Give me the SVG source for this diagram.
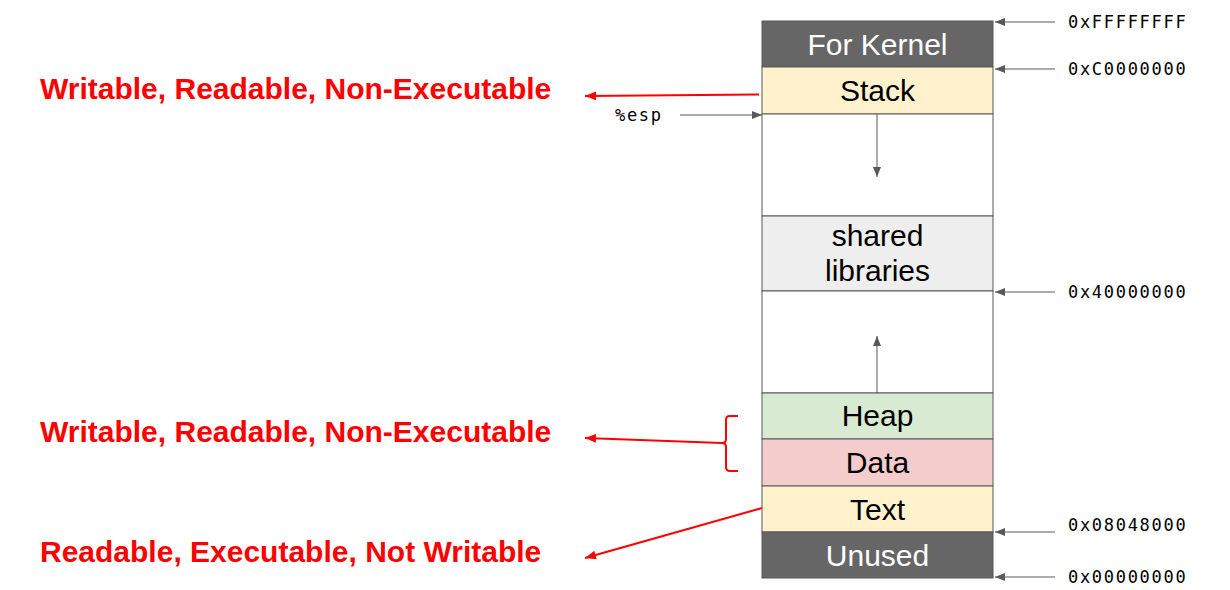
<svg xmlns="http://www.w3.org/2000/svg" width="1230" height="590" viewBox="0 0 1230 590">
<style>
.blk{stroke:#595959;stroke-width:1}
.lbl{font-family:"Liberation Sans",Arial,sans-serif;font-size:30px;text-anchor:middle;fill:#000}
.wl{fill:#fff}
.addr{font-family:"DejaVu Sans Mono","Liberation Mono",monospace;font-size:17px;letter-spacing:1.7px;fill:#000}
.perm{font-family:"Liberation Sans",Arial,sans-serif;font-size:30px;font-weight:bold;fill:#ff0000}
.gl{stroke:#595959;stroke-width:1;fill:none}
.rl{stroke:#ff0000;stroke-width:2;fill:none}
</style>
<defs>
<marker id="ga" viewBox="0 0 10 10" refX="10" refY="5" markerWidth="10" markerHeight="10" markerUnits="userSpaceOnUse" orient="auto"><path d="M0,1 L10,5 L0,9 Z" fill="#595959"/></marker>
<marker id="ra" viewBox="0 0 10 10" refX="10" refY="5" markerWidth="11" markerHeight="11" markerUnits="userSpaceOnUse" orient="auto"><path d="M0,1 L10,5 L0,9 Z" fill="#ff0000"/></marker>
</defs>
<rect width="1230" height="590" fill="#fff"/>
<g id="kernel"><rect class="blk" x="762" y="21" width="231" height="46" fill="#666666"/><text class="lbl wl" x="877.5" y="55">For Kernel</text></g>
<g id="stack"><rect class="blk" x="762" y="67" width="231" height="47" fill="#fff2cc"/><text class="lbl" x="877.5" y="101">Stack</text></g>
<g id="gap1"><rect class="blk" x="762" y="114" width="231" height="102" fill="#fff"/></g>
<g id="shared"><rect class="blk" x="762" y="216" width="231" height="75" fill="#eeeeee"/><text class="lbl" x="877.5" y="246">shared</text><text class="lbl" x="877.5" y="281">libraries</text></g>
<g id="gap2"><rect class="blk" x="762" y="291" width="231" height="102" fill="#fff"/></g>
<g id="heap"><rect class="blk" x="762" y="393" width="231" height="46" fill="#d9ead3"/><text class="lbl" x="877.5" y="426">Heap</text></g>
<g id="data"><rect class="blk" x="762" y="439" width="231" height="47" fill="#f4cccc"/><text class="lbl" x="877.5" y="473">Data</text></g>
<g id="text"><rect class="blk" x="762" y="486" width="231" height="46" fill="#fff2cc"/><text class="lbl" x="877.5" y="520">Text</text></g>
<g id="unused"><rect class="blk" x="762" y="532" width="231" height="46" fill="#666666"/><text class="lbl wl" x="877.5" y="566">Unused</text></g>
<g id="addresses">
<text class="addr" x="1068" y="28">0xFFFFFFFF</text>
<text class="addr" x="1068" y="75">0xC0000000</text>
<text class="addr" x="1068" y="298">0x40000000</text>
<text class="addr" x="1068" y="531">0x08048000</text>
<text class="addr" x="1068" y="583">0x00000000</text>
<text class="addr" x="615" y="121">%esp</text>
</g>
<g id="perms">
<text class="perm" x="40" y="99">Writable, Readable, Non-Executable</text>
<text class="perm" x="40" y="442">Writable, Readable, Non-Executable</text>
<text class="perm" x="40" y="562">Readable, Executable, Not Writable</text>
</g>
<g id="connectors">
<line class="gl" x1="877" y1="114" x2="877" y2="177" marker-end="url(#ga)"/>
<line class="gl" x1="877" y1="393" x2="877" y2="336" marker-end="url(#ga)"/>
<line class="gl" x1="1055" y1="22" x2="995" y2="22" marker-end="url(#ga)"/>
<line class="gl" x1="1055" y1="69" x2="995" y2="69" marker-end="url(#ga)"/>
<line class="gl" x1="1055" y1="292" x2="995" y2="292" marker-end="url(#ga)"/>
<line class="gl" x1="1055" y1="532" x2="995" y2="532" marker-end="url(#ga)"/>
<line class="gl" x1="1055" y1="577" x2="995" y2="577" marker-end="url(#ga)"/>
<line class="gl" x1="680" y1="115" x2="762" y2="115" marker-end="url(#ga)"/>
<line class="rl" x1="759" y1="94.5" x2="585" y2="96" marker-end="url(#ra)"/>
<path class="rl" d="M738,416 L730,416 Q726,416 726,420 L726,439 Q726,443 722,443 Q726,443 726,447 L726,467 Q726,471 730,471 L738,471"/>
<line class="rl" x1="722" y1="443" x2="585" y2="438" marker-end="url(#ra)"/>
<line class="rl" x1="762" y1="508" x2="585" y2="558" marker-end="url(#ra)"/>
</g>
</svg>
